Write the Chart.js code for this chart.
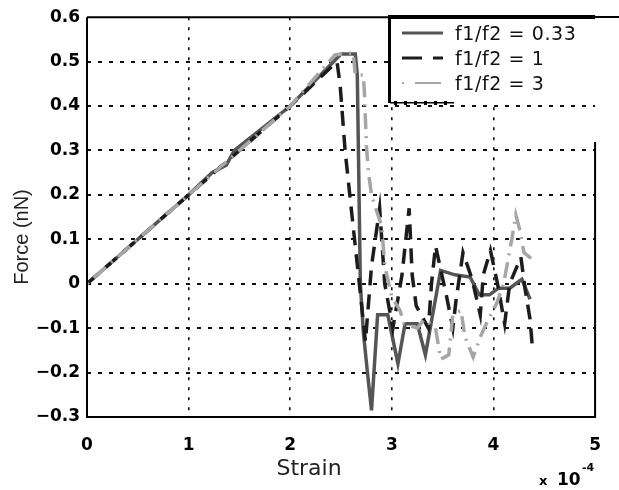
<!DOCTYPE html>
<html><head><meta charset="utf-8">
<script src="https://cdn.jsdelivr.net/npm/chart.js@4/dist/chart.umd.min.js"></script>
<style>html,body{margin:0;padding:0;background:#fff;}#wrap{width:619px;height:490px;}</style>
</head><body><div id="wrap"><canvas id="c" width="619" height="490"></canvas></div>
<script>
// ---- data (strain in units of 1e-4, force in nN) ----
const xTickValues = [0, 1, 2, 3, 4, 5];
const yTickValues = [-0.3, -0.2, -0.1, 0, 0.1, 0.2, 0.3, 0.4, 0.5, 0.6];
const seriesNames = ['f1/f2 = 0.33', 'f1/f2 = 1', 'f1/f2 = 3'];
const xAxisTitle = 'Strain';
const yAxisTitle = 'Force (nN)';

const strain033 = [0, 1.0, 1.23, 1.37, 1.45, 2.0, 2.5, 2.64, 2.66, 2.69, 2.72, 2.76, 2.8, 2.86, 2.96, 3.06, 3.13, 3.25, 3.33, 3.48, 3.62, 3.77, 3.86, 3.96, 4.05, 4.16, 4.28, 4.36];
const force033  = [0, 0.2, 0.25, 0.267, 0.3, 0.4, 0.517, 0.517, 0.47, 0.0, -0.11, -0.2, -0.285, -0.07, -0.07, -0.18, -0.09, -0.09, -0.16, 0.03, 0.02, 0.015, -0.025, -0.025, -0.01, -0.01, 0.01, -0.035];

const strain1 = [0, 1.0, 2.0, 2.46, 2.49, 2.54, 2.6, 2.68, 2.74, 2.8, 2.88, 2.93, 3.01, 3.1, 3.17, 3.2, 3.24, 3.36, 3.39, 3.43, 3.54, 3.6, 3.63, 3.7, 3.79, 3.87, 3.9, 3.97, 4.04, 4.11, 4.16, 4.27, 4.31, 4.36, 4.38];
const force1  = [0, 0.2, 0.4, 0.5, 0.45, 0.3, 0.17, 0.0, -0.13, 0.04, 0.17, 0.0, -0.1, 0.02, 0.17, 0.02, -0.05, -0.1, 0.0, 0.085, -0.03, -0.1, -0.04, 0.07, 0.01, -0.07, 0.02, 0.075, 0.0, -0.09, 0.0, 0.06, -0.01, -0.08, -0.135];

const strain3 = [0, 1.0, 2.0, 2.44, 2.62, 2.64, 2.72, 2.73, 2.75, 2.77, 2.8, 2.84, 2.9, 2.93, 3.0, 3.08, 3.12, 3.25, 3.32, 3.43, 3.48, 3.56, 3.6, 3.68, 3.72, 3.8, 3.87, 3.95, 4.03, 4.1, 4.14, 4.18, 4.22, 4.26, 4.3, 4.37];
const force3  = [0, 0.2, 0.4, 0.515, 0.52, 0.47, 0.47, 0.43, 0.31, 0.25, 0.2, 0.17, 0.13, 0.04, -0.03, -0.06, -0.09, -0.1, -0.08, -0.1, -0.17, -0.16, -0.07, -0.06, -0.12, -0.165, -0.12, -0.08, -0.045, 0.0, 0.05, 0.1, 0.155, 0.12, 0.07, 0.057];

const pts = (xs, ys) => xs.map((x, i) => ({x: x, y: ys[i]}));

const styles = [
  {color: '#555555', dash: [], legendDash: [], width: 3.5},
  {color: '#1c1c1c', dash: [15, 9], legendDash: [20, 11], width: 3.5},
  {color: '#a6a6a6', dash: [2, 7, 16, 7], legendDash: [2, 11, 26, 30], width: 3.5}
];

const fmtY = v => {
  const r = Math.round(v * 10) / 10;
  if (Math.abs(r) < 1e-9) return '0';
  const s = Math.abs(r).toFixed(1);
  return (r < 0 ? '\u2212' : '') + s;
};

const framePlugin = {
  id: 'frame',
  afterDraw(chart) {
    const ctx = chart.ctx;
    const a = chart.chartArea;
    ctx.save();
    ctx.strokeStyle = '#000';
    ctx.lineWidth = 2;
    ctx.setLineDash([]);
    ctx.beginPath();
    ctx.moveTo(a.left, a.top); ctx.lineTo(a.left, a.bottom); ctx.lineTo(a.right, a.bottom); ctx.lineTo(a.right, 142);
    ctx.moveTo(a.left, a.top); ctx.lineTo(390, a.top);
    ctx.stroke();

    // legend box
    const lx = 390, ly = 15, lb = 102;
    ctx.fillStyle = '#fff';
    ctx.fillRect(lx, ly, 619 - lx, lb - ly);
    ctx.fillStyle = '#000';
    ctx.fillRect(lx - 2, ly, 3, lb - ly + 1);
    ctx.fillRect(lx - 2, ly, a.right - lx + 2, 4);
    ctx.fillRect(a.right, ly + 1, 619 - a.right, 2);
    ctx.fillRect(lx, lb, 64, 1.5);
    for (let tx = lx + 4; tx < lx + 64; tx += 10) ctx.fillRect(tx, lb - 1, 3, 4);

    const rowY = [33, 58, 83];
    chart.data.datasets.forEach((ds, i) => {
      const st = styles[i];
      ctx.strokeStyle = st.color;
      ctx.lineWidth = i === 2 ? 2 : 3;
      ctx.setLineDash(st.legendDash);
      ctx.beginPath();
      ctx.moveTo(402, rowY[i]); ctx.lineTo(443, rowY[i]);
      ctx.stroke();
      ctx.setLineDash([]);
      ctx.fillStyle = '#111';
      ctx.font = '19px "DejaVu Sans"';
      if ('letterSpacing' in ctx) ctx.letterSpacing = '0.6px';
      ctx.textAlign = 'left';
      ctx.textBaseline = 'middle';
      ctx.fillText(ds.label, 455, rowY[i] + 2);
    });
    if ('letterSpacing' in ctx) ctx.letterSpacing = '0px';

    ctx.fillStyle = '#222';
    ctx.font = '22px "DejaVu Sans"';
    ctx.textAlign = 'center';
    ctx.textBaseline = 'alphabetic';
    ctx.fillText(xAxisTitle, 309, 475);

    ctx.save();
    ctx.translate(22, 237);
    ctx.rotate(-Math.PI / 2);
    ctx.font = '20px "Liberation Sans"';
    ctx.textAlign = 'center';
    ctx.textBaseline = 'middle';
    ctx.fillText(yAxisTitle, 0, 0);
    ctx.restore();

    ctx.fillStyle = '#000';
    ctx.textAlign = 'left';
    ctx.textBaseline = 'alphabetic';
    ctx.font = 'bold 13px "DejaVu Sans"';
    ctx.fillText('x', 539, 485);
    ctx.font = 'bold 17px "DejaVu Sans"';
    ctx.fillText('10', 557, 485);
    ctx.font = 'bold 11px "DejaVu Sans"';
    ctx.fillText('-4', 582, 471);
    ctx.restore();
  }
};

const gridColor = (c) => {
  if (!c.tick) return '#111';
  const v = c.tick.value;
  const sc = c.scale;
  if (Math.abs(v - sc.min) < 1e-9 || Math.abs(v - sc.max) < 1e-9) return 'rgba(0,0,0,0)';
  return '#111';
};

new Chart(document.getElementById('c'), {
  type: 'line',
  data: {
    datasets: [
      {label: seriesNames[0], data: pts(strain033, force033), order: 3},
      {label: seriesNames[1], data: pts(strain1, force1), order: 2},
      {label: seriesNames[2], data: pts(strain3, force3), order: 1}
    ].map((d, i) => Object.assign(d, {
      borderColor: styles[i].color,
      borderDash: styles[i].dash,
      borderWidth: styles[i].width,
      pointRadius: 0,
      tension: 0,
      fill: false
    }))
  },
  options: {
    responsive: false,
    animation: false,
    devicePixelRatio: 1,
    layout: {padding: {top: 14, right: 20, left: 0, bottom: 0}},
    plugins: {legend: {display: false}, tooltip: {enabled: false}, title: {display: false}},
    scales: {
      x: {
        type: 'linear', min: 0, max: 5,
        afterFit(s) { s.height = 73; },
        afterBuildTicks(s) { s.ticks = xTickValues.map(v => ({value: v})); },
        border: {display: false, dash: [3, 7]},
        grid: {color: gridColor, lineWidth: 1.6, drawTicks: false},
        ticks: {
          padding: 18, color: '#000', maxRotation: 0,
          font: {family: 'DejaVu Sans', weight: 'bold', size: 17},
          callback: v => String(v)
        }
      },
      y: {
        type: 'linear', min: -0.3, max: 0.6,
        afterFit(s) { s.width = 87; },
        afterBuildTicks(s) { s.ticks = yTickValues.map(v => ({value: v})); },
        border: {display: false, dash: [4, 7]},
        grid: {color: gridColor, lineWidth: 2, drawTicks: false},
        ticks: {
          padding: 7, color: '#000',
          font: {family: 'DejaVu Sans', weight: 'bold', size: 17},
          callback: v => fmtY(v)
        }
      }
    }
  },
  plugins: [framePlugin]
});
</script>
</body></html>
